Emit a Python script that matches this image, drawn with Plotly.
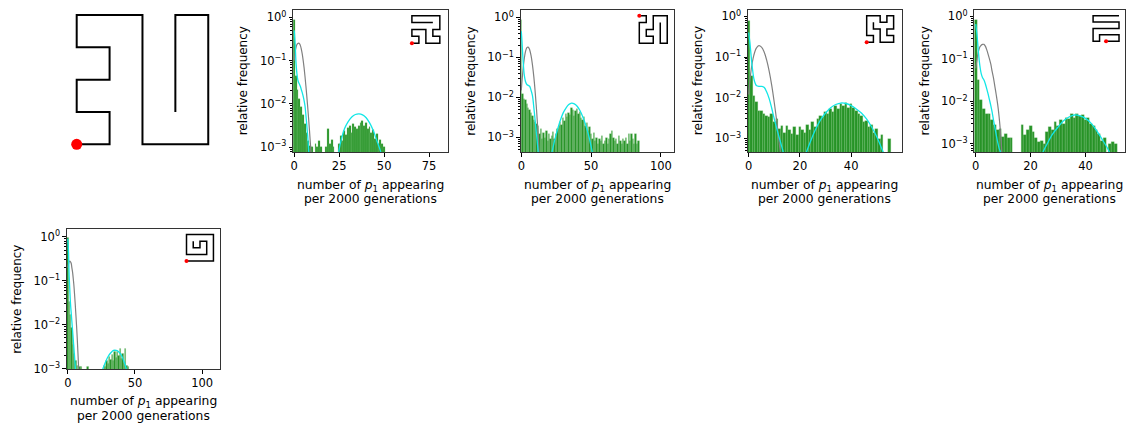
import plotly.graph_objects as go

# ---------------- data ----------------
# Hamiltonian walks on a 5x5 grid (column, row); first node = red start
PATH_MAIN = [(0,0),(1,0),(1,1),(0,1),(0,2),(1,2),(1,3),(0,3),(0,4),(1,4),(2,4),(2,3),(2,2),(2,1),(2,0),
             (3,0),(4,0),(4,1),(4,2),(4,3),(4,4),(3,4),(3,3),(3,2),(3,1)]
PATH_A = [(0,0),(1,0),(1,1),(0,1),(0,2),(1,2),(2,2),(2,1),(2,0),(3,0),(4,0),(4,1),(3,1),(3,2),(4,2),
          (4,3),(4,4),(3,4),(2,4),(1,4),(0,4),(0,3),(1,3),(2,3),(3,3)]
PATH_B = [(0,4),(1,4),(1,3),(0,3),(0,2),(0,1),(0,0),(1,0),(2,0),(2,1),(1,1),(1,2),(2,2),(2,3),(2,4),
          (3,4),(4,4),(4,3),(4,2),(4,1),(4,0),(3,0),(3,1),(3,2),(3,3)]
PATH_C = [(0,0),(1,0),(1,1),(0,1),(0,2),(0,3),(0,4),(1,4),(2,4),(2,3),(3,3),(3,4),(4,4),(4,3),(4,2),
          (3,2),(3,1),(4,1),(4,0),(3,0),(2,0),(2,1),(2,2),(1,2),(1,3)]
PATH_D = [(2,0),(3,0),(4,0),(4,1),(3,1),(2,1),(1,1),(1,0),(0,0),(0,1),(0,2),(1,2),(2,2),(3,2),(4,2),
          (4,3),(3,3),(2,3),(1,3),(0,3),(0,4),(1,4),(2,4),(3,4),(4,4)]
PATH_E = [(0,0),(1,0),(2,0),(3,0),(4,0),(4,1),(4,2),(4,3),(4,4),(3,4),(2,4),(1,4),(0,4),(0,3),(0,2),
          (0,1),(1,1),(2,1),(3,1),(3,2),(3,3),(2,3),(2,2),(1,2),(1,3)]

# relative frequency of k = 0,1,2,... occurrences (0 = empty bin)
HIST_1 = [0.88, 0.045, 0.021, 0.013, 0.0085, 0.0055, 0.0035, 0.0021, 0.0014, 0.0011,
          0.001, 0, 0.0012, 0.001, 0.0014, 0.001, 0, 0, 0.001, 0.0026,
          0.0012, 0.0015, 0.001, 0, 0, 0.0012, 0.0018, 0.0014, 0.0024, 0.0019,
          0.0028, 0.0032, 0.0022, 0.0034, 0.0029, 0.0026, 0.0031, 0.0036, 0.0041, 0.0031,
          0.0036, 0.0027, 0.0030, 0.0021, 0.0025, 0.0016, 0.0020, 0.0012, 0.0015, 0.0012,
          0.0010]
HIST_2 = [0.88, 0.012, 0.009, 0.0085, 0.007, 0.0055, 0.005, 0.004, 0.0035, 0.0028,
          0.0024, 0.0022, 0.002, 0.0012, 0.0016, 0.0009, 0.0013, 0.001, 0.0015, 0.0008,
          0.0012, 0.0009, 0.0011, 0.0014, 0.0009, 0.0012, 0.0016, 0.0019, 0.0024, 0.0021,
          0.003, 0.0026, 0.0038, 0.0033, 0.0042, 0.0036, 0.0055, 0.0048, 0.0035, 0.0045,
          0.0052, 0.0038, 0.0044, 0.0031, 0.0027, 0.0033, 0.0019, 0.0023, 0.0015, 0.0018,
          0.0012, 0.0009, 0.0013, 0.0008, 0.0010, 0.0007, 0.0009, 0.0008, 0.0011, 0.0007,
          0.0008, 0.0010, 0.0007, 0.0009, 0.0012, 0.0015, 0.0010, 0.0008, 0.0009, 0.0007,
          0.0011, 0.0008, 0.0007, 0.0009, 0.0008, 0.0010, 0.0007, 0.0012, 0.0008, 0.0012,
          0.0009, 0.0007, 0.0012, 0.0007, 0.0008]
HIST_3 = [0.79, 0.034, 0.011, 0.0077, 0.0048, 0.0048, 0.004, 0.0036, 0.0033, 0.004,
          0.0025, 0.003, 0.0017, 0.002, 0.0014, 0.002, 0.0016, 0.0013, 0.0019, 0.0012,
          0.0019, 0.0016, 0.0014, 0.0021, 0.0016, 0.0025, 0.0019, 0.003, 0.0036, 0.0033,
          0.0044, 0.004, 0.0053, 0.0044, 0.0063, 0.0053, 0.007, 0.0063, 0.0074, 0.0058,
          0.007, 0.0058, 0.0048, 0.004, 0.0036, 0.0025, 0.0027, 0.0019, 0.0021, 0.0014,
          0.0017, 0.001, 0.0012, 0, 0, 0.001]
HIST_4 = [0.84, 0.033, 0.011, 0.0066, 0.005, 0.005, 0.0036, 0.0028, 0.0021, 0.0023,
          0.0015, 0.0017, 0.0014, 0.0014, 0, 0, 0, 0.0028, 0.0016, 0.0021,
          0.0027, 0.0019, 0.0014, 0.0011, 0.0012, 0.001, 0.0019, 0.0025, 0.0021, 0.0033,
          0.0027, 0.0036, 0.003, 0.0042, 0.0039, 0.005, 0.0042, 0.005, 0.0047, 0.0048,
          0.0036, 0.0041, 0.0029, 0.0027, 0.0021, 0.0017, 0.0012, 0.0014, 0, 0.001,
          0.0011, 0.001]
HIST_5 = [0.95, 0.033, 0.017, 0.0085, 0.0036, 0.0022, 0.0015, 0.0012, 0, 0.0011,
          0.0011, 0, 0, 0, 0, 0.0011, 0, 0, 0, 0,
          0, 0, 0, 0, 0, 0, 0, 0.0012, 0.0011, 0.0015,
          0.0013, 0.0019, 0.0016, 0.0021, 0.0015, 0.0024, 0.0018, 0.0025, 0.0020, 0.0028,
          0.0017, 0.0022, 0.0014, 0.0028, 0.0012, 0.0011]

# gray reference curve
GRAY_X_1 = [0, 0.5, 1, 1.5, 2, 2.5, 3, 3.5, 4, 4.5, 5, 5.5, 6, 6.5, 7, 7.5, 8, 8.5, 9, 9.5, 10]
GRAY_Y_1 = [0.1, 0.16, 0.2, 0.235, 0.25, 0.255, 0.245, 0.22, 0.18, 0.14, 0.1, 0.068, 0.043, 0.026,
            0.015, 0.0085, 0.0046, 0.0024, 0.0012, 0.0006, 0.0003]
GRAY_X_2 = [0, 1, 2, 3, 4, 4.8, 5.5, 6, 7, 8, 9, 10, 11, 12, 13]
GRAY_Y_2 = [0.015, 0.04, 0.085, 0.14, 0.175, 0.18, 0.17, 0.155, 0.11, 0.065, 0.032, 0.013, 0.0045,
            0.0013, 0.0003]
GRAY_X_3 = [0, 1, 2, 3, 4, 5, 6, 7, 8, 9, 10, 11, 12, 13]
GRAY_Y_3 = [0.012, 0.05, 0.11, 0.165, 0.19, 0.175, 0.135, 0.085, 0.045, 0.02, 0.0075, 0.0025,
            0.0007, 0.0002]
GRAY_X_4 = [0, 0.5, 1, 1.5, 2, 2.5, 3, 3.5, 4, 4.5, 5, 5.5, 6, 6.5, 7, 7.5, 8, 8.5, 9, 9.5, 10]
GRAY_Y_4 = [0.06, 0.1, 0.15, 0.19, 0.21, 0.22, 0.22, 0.2, 0.165, 0.13, 0.1, 0.075, 0.05, 0.035,
            0.022, 0.014, 0.0085, 0.0045, 0.002, 0.0007, 0.0002]
GRAY_X_5 = [0, 0.5, 1, 1.5, 2, 2.5, 3, 3.5, 4, 4.5, 5, 5.5, 6, 6.5, 7, 7.5, 8, 8.5]
GRAY_Y_5 = [0.2, 0.24, 0.27, 0.28, 0.27, 0.25, 0.2, 0.16, 0.115, 0.08, 0.05, 0.03, 0.017, 0.0095,
            0.005, 0.0024, 0.0011, 0.0005]

# cyan fitted curve: low-count part and high-count bump
CYAN_LO_X_1 = [0, 0.5, 1, 1.5, 2, 2.5, 3, 3.5, 4, 4.5, 5, 5.5, 6, 6.5, 7, 7.5, 8, 8.5]
CYAN_LO_Y_1 = [0.5, 0.25, 0.09, 0.05, 0.036, 0.031, 0.028, 0.025, 0.021, 0.018, 0.015, 0.012,
               0.009, 0.0055, 0.0032, 0.0018, 0.0009, 0.0004]
CYAN_HI_X_1 = [24, 25, 26, 28, 30, 32, 34, 36, 38, 40, 42, 44, 46, 48, 49]
CYAN_HI_Y_1 = [0.0005, 0.0009, 0.0014, 0.0027, 0.0039, 0.005, 0.0057, 0.0059, 0.0056, 0.0048,
               0.0036, 0.0024, 0.0014, 0.0008, 0.0005]
CYAN_LO_X_2 = [0, 0.5, 1, 1.5, 2, 3, 4, 5, 6, 7, 8, 9, 10, 11, 12, 12.5]
CYAN_LO_Y_2 = [0.45, 0.25, 0.12, 0.065, 0.04, 0.025, 0.021, 0.02, 0.019, 0.015, 0.011, 0.0055,
               0.0025, 0.0011, 0.00048, 0.0003]
CYAN_HI_X_2 = [22, 24, 26, 28, 30, 32, 34, 36, 38, 40, 42, 44, 46, 48, 50, 51]
CYAN_HI_Y_2 = [0.00043, 0.00087, 0.0016, 0.0027, 0.0041, 0.0054, 0.0066, 0.0072, 0.0069, 0.006,
               0.0047, 0.0033, 0.0021, 0.0012, 0.0006, 0.0004]
CYAN_LO_X_3 = [0, 0.5, 1, 1.5, 2, 2.5, 3, 4, 5, 6, 7, 8, 9, 10, 11, 12, 13, 14]
CYAN_LO_Y_3 = [0.4, 0.22, 0.1, 0.05, 0.03, 0.023, 0.02, 0.019, 0.019, 0.018, 0.014, 0.0095,
               0.0055, 0.003, 0.0017, 0.001, 0.0006, 0.00035]
CYAN_HI_X_3 = [22.5, 24, 26, 28, 30, 32, 34, 36, 38, 40, 42, 44, 46, 48, 50, 52, 53]
CYAN_HI_Y_3 = [0.00045, 0.0008, 0.0016, 0.0028, 0.0042, 0.0057, 0.0068, 0.0074, 0.0072, 0.0064,
               0.0053, 0.0042, 0.003, 0.0019, 0.0011, 0.00055, 0.0004]
CYAN_LO_X_4 = [0, 0.5, 1, 1.5, 2, 2.5, 3, 3.5, 4, 4.5, 5, 5.5, 6, 6.5, 7, 7.5, 8, 8.5, 9, 9.5]
CYAN_LO_Y_4 = [0.66, 0.35, 0.14, 0.07, 0.045, 0.036, 0.032, 0.026, 0.02, 0.015, 0.011, 0.008,
               0.0055, 0.0036, 0.0024, 0.0016, 0.0011, 0.0008, 0.00065, 0.0005]
CYAN_HI_X_4 = [24.5, 26, 28, 30, 32, 34, 36, 38, 40, 42, 44, 46, 48, 49.5]
CYAN_HI_Y_4 = [0.00065, 0.001, 0.0017, 0.0025, 0.0035, 0.0043, 0.0048, 0.0046, 0.004, 0.0031,
               0.0021, 0.0013, 0.0008, 0.0005]
CYAN_LO_X_5 = [0, 0.5, 1, 1.5, 2, 2.5, 3, 3.5, 4, 4.5, 5, 5.5, 6]
CYAN_LO_Y_5 = [0.9, 0.45, 0.13, 0.06, 0.03, 0.019, 0.012, 0.0075, 0.0048, 0.003, 0.0019, 0.0012,
               0.0007]
CYAN_HI_X_5 = [26, 28, 30, 32, 34, 36, 38, 40, 42, 43.5, 44.5]
CYAN_HI_Y_5 = [0.00098, 0.0014, 0.0019, 0.0023, 0.0026, 0.0026, 0.0024, 0.002, 0.0014, 0.001, 0.0007]

X_TICKS = [[0, 25, 50, 75], [0, 50, 100], [0, 20, 40], [0, 20, 40], [0, 50, 100]]
Y_TICKVALS = [1, 0.1, 0.01, 0.001]
Y_TICKTEXT = ["10<sup>0</sup>", "10<sup>\u22121</sup>", "10<sup>\u22122</sup>", "10<sup>\u22123</sup>"]
X_TITLE_LINES = ["number of <i>p</i><sub>1</sub> appearing", "per 2000 generations"]
Y_TITLE = "relative frequency"

# ---------------- layout geometry (pixels) ----------------
W, H = 1126, 430
FONT = "DejaVu Sans, Liberation Sans, sans-serif"

def dom_x(a, b):
    return [a / W, b / W]

def dom_y(top, bottom):
    return [1 - bottom / H, 1 - top / H]

# (left, right, top, bottom, xrange, log-yrange)
PANELS = [
    (291, 446, 9, 154, [-0.55, 85.4], [-3.113, 0.174]),
    (519, 673, 9, 154, [-0.48, 109.5], [-3.368, 0.188]),
    (747, 901, 9, 154, [-0.26, 59.7], [-3.338, 0.16]),
    (974, 1125, 9, 154, [-0.48, 54.4], [-3.192, 0.154]),
    (64, 218, 232, 375, [-0.74, 113.6], [-3.007, 0.185]),
]
HISTS = [HIST_1, HIST_2, HIST_3, HIST_4, HIST_5]
GRAYS = [(GRAY_X_1, GRAY_Y_1), (GRAY_X_2, GRAY_Y_2), (GRAY_X_3, GRAY_Y_3),
         (GRAY_X_4, GRAY_Y_4), (GRAY_X_5, GRAY_Y_5)]
CYANS = [(CYAN_LO_X_1, CYAN_LO_Y_1, CYAN_HI_X_1, CYAN_HI_Y_1),
         (CYAN_LO_X_2, CYAN_LO_Y_2, CYAN_HI_X_2, CYAN_HI_Y_2),
         (CYAN_LO_X_3, CYAN_LO_Y_3, CYAN_HI_X_3, CYAN_HI_Y_3),
         (CYAN_LO_X_4, CYAN_LO_Y_4, CYAN_HI_X_4, CYAN_HI_Y_4),
         (CYAN_LO_X_5, CYAN_LO_Y_5, CYAN_HI_X_5, CYAN_HI_Y_5)]
# inset grid boxes (left, top, size) in px
INSETS = [(410, 15, 28), (638, 15, 28), (866, 15, 27), (1093, 15, 26), (184, 238, 27)]
INSET_PATHS = [PATH_A, PATH_B, PATH_C, PATH_D, PATH_E]

fig = go.Figure()
layout = dict(width=W, height=H, margin=dict(l=0, r=0, t=0, b=0),
              paper_bgcolor="white", plot_bgcolor="rgba(0,0,0,0)", showlegend=False,
              font=dict(family=FONT, size=11, color="black"), bargap=0)
annotations = []

# ---- panel 0: large walk diagram ----
px = [p[0] for p in PATH_MAIN]
py = [p[1] for p in PATH_MAIN]
fig.add_trace(go.Scatter(x=px, y=py, mode="lines", line=dict(color="black", width=2),
                         xaxis="x", yaxis="y", hoverinfo="skip"))
fig.add_trace(go.Scatter(x=[px[0]], y=[py[0]], mode="markers",
                         marker=dict(color="red", size=11), xaxis="x", yaxis="y"))
layout["xaxis"] = dict(domain=dom_x(64, 218), range=[-0.30, 4.37], visible=False, anchor="y")
layout["yaxis"] = dict(domain=dom_y(9, 154), range=[-0.24, 4.16], visible=False, anchor="x")

minor_vals = [m * 10 ** e for e in range(-4, 1) for m in range(2, 10)]

for i, (l, r, t, b, xr, yr) in enumerate(PANELS):
    n = i + 2
    xa, ya = f"x{n}", f"y{n}"
    vals = HISTS[i]
    ks = list(range(len(vals)))
    yv = [v if v > 0 else None for v in vals]
    fig.add_trace(go.Bar(x=ks, y=yv, width=1, xaxis=xa, yaxis=ya,
                         marker=dict(color="rgba(0,128,0,0.85)",
                                     line=dict(color="rgba(140,205,140,0.7)", width=0.4))))
    gx, gy = GRAYS[i]
    fig.add_trace(go.Scatter(x=gx, y=gy, mode="lines", xaxis=xa, yaxis=ya,
                             line=dict(color="#808080", width=1.2, shape="spline")))
    lx, ly, hx, hy = CYANS[i]
    fig.add_trace(go.Scatter(x=lx + [None] + hx, y=ly + [None] + hy, mode="lines",
                             xaxis=xa, yaxis=ya, connectgaps=False,
                             line=dict(color="#12e6e6", width=1.3, shape="spline")))
    layout[f"xaxis{n}"] = dict(domain=dom_x(l, r), range=xr, anchor=ya, tickvals=X_TICKS[i],
                               ticks="outside", ticklen=3.5, tickwidth=0.8, tickcolor="black",
                               showline=True, linecolor="#333", linewidth=1, mirror=True,
                               showgrid=False, zeroline=False, tickfont=dict(size=11.5))
    layout[f"yaxis{n}"] = dict(domain=dom_y(t, b), range=yr, type="log", anchor=xa,
                               tickvals=Y_TICKVALS, ticktext=Y_TICKTEXT,
                               ticks="outside", ticklen=3.5, tickwidth=0.8, tickcolor="black",
                               minor=dict(ticks="outside", ticklen=2, tickwidth=0.6,
                                          tickcolor="black", tickmode="array",
                                          tickvals=minor_vals),
                               showline=True, linecolor="#333", linewidth=1, mirror=True,
                               showgrid=False, zeroline=False, tickfont=dict(size=11.5))
    cx = (l + r) / 2 / W
    annotations.append(dict(text=X_TITLE_LINES[0], xref="paper", yref="paper", x=cx,
                            y=1 - (b + 34) / H, xanchor="center", yanchor="middle",
                            showarrow=False, font=dict(size=12.3)))
    annotations.append(dict(text=X_TITLE_LINES[1], xref="paper", yref="paper", x=cx,
                            y=1 - (b + 48) / H, xanchor="center", yanchor="middle",
                            showarrow=False, font=dict(size=12.3)))
    annotations.append(dict(text=Y_TITLE, xref="paper", yref="paper", x=(l - 50) / W,
                            y=1 - (t + b) / 2 / H, xanchor="center", yanchor="middle",
                            textangle=-90, showarrow=False, font=dict(size=12)))

# ---- insets ----
for j, (il, it, sz) in enumerate(INSETS):
    n = j + 7
    xa, ya = f"x{n}", f"y{n}"
    path = INSET_PATHS[j]
    qx = [p[0] for p in path]
    qy = [p[1] for p in path]
    fig.add_trace(go.Scatter(x=qx, y=qy, mode="lines", line=dict(color="black", width=1.5),
                             xaxis=xa, yaxis=ya, hoverinfo="skip"))
    fig.add_trace(go.Scatter(x=[qx[0]], y=[qy[0]], mode="markers",
                             marker=dict(color="red", size=4), xaxis=xa, yaxis=ya))
    pad = 3
    unit = sz / 4.0
    layout[f"xaxis{n}"] = dict(domain=dom_x(il - pad, il + sz + pad),
                               range=[-pad / unit, 4 + pad / unit], visible=False, anchor=ya)
    layout[f"yaxis{n}"] = dict(domain=dom_y(it - pad, it + sz + pad),
                               range=[-pad / unit, 4 + pad / unit], visible=False, anchor=xa)

layout["annotations"] = annotations
fig.update_layout(**layout)
fig.write_html("out.html")
